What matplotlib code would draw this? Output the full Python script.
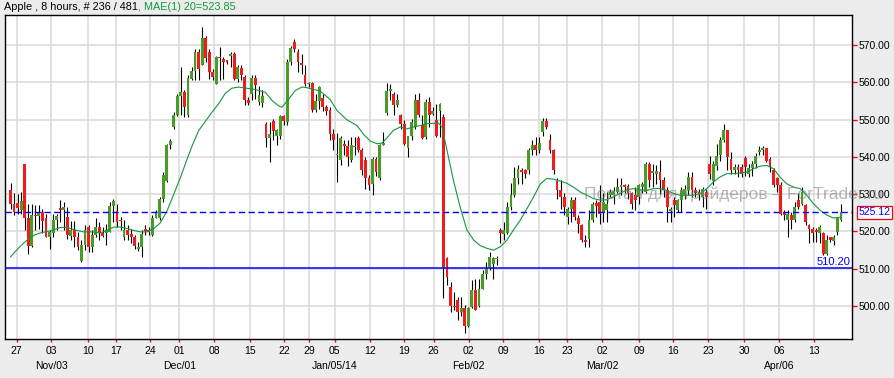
import matplotlib
matplotlib.use('Agg')
import matplotlib.pyplot as plt
import numpy as np

plt.rcParams['font.family'] = ['Liberation Sans', 'DejaVu Sans']

# 8 hour candles, Apple, Oct 25 2013 - Apr 17 2014
opens = [531.0, 527.5, 527.7, 525.7, 538.0, 523.6, 516.2, 524.4, 524.1, 525.1,
         523.5, 518.4, 519.6, 523.0, 526.4, 525.7, 523.9, 518.7, 520.4, 518.4,
         512.2, 516.3, 521.1, 515.9, 519.0, 521.1, 519.6, 519.5, 519.9, 526.8,
         525.4, 522.8, 518.4, 520.4, 519.3, 518.4, 515.2, 515.9, 520.6, 520.4,
         519.0, 523.5, 523.5, 528.6, 533.4, 543.1, 548.0, 551.3, 556.4, 557.5,
         551.1, 560.9, 563.1, 568.2, 564.5, 571.8, 568.0, 562.7, 559.6, 566.7,
         566.2, 565.6, 567.1, 567.6, 560.9, 563.7, 561.3, 555.1, 556.9, 561.1,
         554.8, 554.5, 548.9, 545.0, 549.7, 545.6, 545.6, 550.9, 549.3, 565.5,
         570.9, 568.2, 565.1, 562.0, 559.4, 559.7, 552.6, 554.9, 555.8, 553.3,
         552.6, 546.0, 540.4, 539.2, 543.5, 542.8, 539.1, 542.6, 545.1, 541.9,
         539.2, 534.4, 532.6, 539.5, 534.2, 543.3, 551.7, 557.6, 556.9, 553.8,
         551.1, 548.9, 542.5, 545.5, 548.0, 555.3, 548.4, 545.3, 554.7, 551.5,
         549.8, 552.4, 550.8, 512.8, 505.2, 500.0, 501.6, 498.5, 499.4, 494.8,
         499.8, 504.3, 500.0, 504.5, 508.6, 510.5, 511.3, 512.6, 520.3, 519.4,
         519.5, 526.6, 529.7, 534.2, 536.2, 536.4, 536.4, 541.7, 543.3, 541.7,
         546.6, 549.5, 544.4, 541.7, 533.5, 531.2, 529.3, 523.9, 526.1, 528.4,
         523.5, 521.7, 517.7, 518.1, 523.0, 527.7, 527.9, 525.3, 525.7, 529.7,
         529.7, 530.6, 532.0, 532.4, 532.1, 530.2, 529.7, 529.3, 531.9, 530.6,
         538.0, 535.6, 535.5, 536.0, 533.7, 531.0, 525.6, 528.4, 525.7, 528.4,
         529.7, 531.0, 534.6, 531.0, 530.6, 529.3, 530.6, 538.0, 533.5, 537.5,
         540.4, 544.6, 547.1, 539.3, 536.4, 537.4, 537.4, 539.8, 535.5, 537.0,
         538.0, 541.4, 541.7, 542.4, 539.5, 536.4, 534.2, 532.4, 525.3, 523.0,
         524.4, 523.0, 528.4, 527.5, 527.0, 521.7, 520.8, 520.5, 519.5, 519.5,
         514.1, 518.4, 517.5, 519.9, 523.2]
highs = [533.0, 530.2, 530.0, 530.6, 538.0, 527.5, 527.5, 527.0, 527.0, 526.1,
         524.8, 520.4, 524.8, 524.8, 528.4, 527.9, 526.6, 522.8, 522.8, 519.9,
         517.7, 521.7, 521.7, 520.4, 523.5, 522.6, 521.1, 522.1, 527.9, 528.8,
         527.5, 523.9, 523.0, 521.7, 520.8, 519.0, 517.2, 520.4, 521.7, 521.2,
         524.4, 525.7, 529.3, 535.9, 543.5, 544.9, 552.0, 556.9, 564.0, 557.8,
         561.8, 564.0, 568.9, 568.9, 574.7, 572.5, 568.9, 563.6, 567.1, 569.4,
         566.7, 566.0, 568.0, 568.0, 564.5, 564.5, 561.8, 556.0, 562.0, 562.0,
         559.1, 557.8, 549.3, 549.3, 550.2, 547.5, 551.3, 551.3, 566.2, 569.8,
         571.6, 568.9, 567.6, 564.5, 560.0, 560.0, 556.9, 559.1, 556.9, 553.8,
         553.3, 547.5, 546.4, 545.7, 544.4, 544.4, 545.3, 545.3, 545.7, 542.5,
         539.9, 535.1, 540.0, 540.0, 543.5, 546.6, 559.7, 559.6, 557.3, 556.9,
         551.5, 549.8, 545.7, 550.2, 556.9, 557.0, 551.1, 555.6, 556.0, 553.3,
         554.2, 554.4, 551.5, 513.2, 506.5, 503.9, 502.5, 502.5, 500.3, 499.8,
         507.0, 507.4, 507.4, 509.8, 511.9, 514.6, 513.2, 513.4, 521.0, 522.6,
         527.9, 533.0, 537.3, 537.7, 537.1, 536.8, 542.5, 544.6, 545.2, 545.2,
         550.5, 550.4, 546.0, 542.0, 534.2, 533.7, 530.2, 526.6, 529.3, 529.3,
         524.4, 522.1, 519.0, 525.7, 527.9, 528.4, 532.4, 530.2, 530.6, 531.5,
         532.0, 534.2, 534.2, 532.8, 532.8, 530.6, 532.0, 532.8, 533.3, 538.6,
         538.6, 538.2, 537.7, 539.2, 534.6, 531.9, 526.6, 529.3, 528.8, 531.9,
         532.4, 535.9, 535.9, 531.9, 531.5, 531.9, 531.5, 540.1, 539.0, 543.5,
         545.3, 548.7, 547.3, 541.3, 538.0, 538.0, 538.0, 540.1, 538.0, 539.0,
         541.0, 543.0, 543.0, 542.5, 540.0, 537.0, 534.6, 533.3, 525.7, 525.7,
         525.3, 527.9, 530.2, 531.9, 527.5, 522.1, 521.2, 521.0, 521.7, 519.9,
         519.0, 518.6, 519.0, 523.9, 527.5]
lows = [526.1, 524.4, 524.6, 524.8, 520.4, 514.1, 515.9, 520.4, 520.8, 519.5,
        518.4, 515.4, 518.4, 520.4, 522.6, 520.4, 518.1, 517.8, 515.9, 515.0,
        511.9, 515.0, 514.6, 514.6, 518.6, 517.7, 518.4, 516.3, 519.9, 522.6,
        521.2, 520.4, 517.7, 517.7, 516.8, 515.4, 514.8, 513.2, 519.0, 519.0,
        518.7, 523.5, 523.0, 527.9, 533.3, 542.2, 547.5, 551.0, 551.1, 550.6,
        550.6, 560.5, 560.5, 560.5, 564.5, 565.4, 560.9, 560.5, 559.6, 560.5,
        560.9, 564.8, 564.0, 560.5, 560.0, 560.5, 553.8, 553.8, 555.1, 555.5,
        553.8, 553.3, 542.6, 538.6, 544.4, 543.1, 544.7, 548.4, 548.4, 564.5,
        568.0, 562.7, 562.2, 559.1, 558.7, 552.0, 552.0, 552.9, 552.4, 551.1,
        544.4, 541.9, 533.3, 537.7, 540.4, 537.5, 538.6, 540.4, 541.3, 535.1,
        531.5, 531.0, 529.7, 535.0, 533.7, 543.1, 551.1, 555.1, 551.1, 553.3,
        547.5, 543.1, 540.0, 544.4, 547.5, 550.6, 544.9, 544.9, 548.0, 551.1,
        545.3, 545.3, 502.1, 505.6, 498.5, 499.0, 496.3, 497.4, 492.9, 494.5,
        499.4, 498.9, 499.7, 504.5, 507.2, 509.7, 507.2, 511.0, 517.0, 517.7,
        519.4, 525.7, 529.3, 532.8, 532.8, 534.2, 535.5, 540.6, 540.5, 540.9,
        545.5, 547.5, 541.0, 535.5, 528.8, 526.1, 524.4, 522.0, 522.6, 523.0,
        519.5, 517.2, 515.9, 515.9, 522.6, 523.9, 522.1, 522.6, 522.6, 529.3,
        527.5, 530.2, 529.7, 530.2, 528.8, 526.1, 525.7, 527.5, 530.2, 530.2,
        532.0, 532.0, 532.8, 530.0, 529.3, 522.6, 522.6, 523.9, 525.3, 525.3,
        528.8, 529.7, 529.3, 529.3, 528.4, 526.6, 526.1, 534.0, 532.5, 536.5,
        539.0, 544.0, 536.4, 535.5, 535.5, 534.5, 534.5, 535.0, 534.5, 535.0,
        537.0, 540.5, 540.5, 538.6, 536.0, 531.9, 530.6, 524.4, 523.0, 518.6,
        520.8, 522.6, 526.1, 527.0, 521.7, 516.8, 517.2, 517.2, 516.8, 513.7,
        513.7, 517.2, 516.3, 519.0, 522.8]
closes = [527.5, 525.3, 526.4, 528.1, 523.6, 516.2, 524.4, 524.2, 525.3, 522.8,
          518.4, 519.9, 523.2, 524.1, 525.7, 526.6, 519.0, 520.3, 518.6, 515.9,
          516.3, 520.4, 515.9, 519.0, 521.1, 519.5, 518.8, 520.4, 526.8, 528.2,
          522.6, 522.7, 520.4, 519.0, 518.4, 516.2, 515.9, 519.3, 520.2, 519.9,
          523.5, 525.3, 528.8, 535.2, 543.1, 544.2, 551.3, 556.4, 557.5, 553.3,
          561.1, 563.1, 568.2, 563.6, 571.8, 566.4, 562.7, 561.3, 566.7, 566.5,
          565.5, 565.5, 567.6, 560.9, 564.0, 561.8, 555.1, 554.5, 561.1, 559.3,
          556.6, 556.4, 545.0, 546.2, 546.8, 547.1, 550.9, 549.5, 565.5, 569.1,
          568.9, 565.4, 564.5, 559.6, 559.4, 552.6, 554.9, 558.7, 553.3, 552.4,
          546.0, 544.4, 540.4, 545.1, 542.8, 540.0, 543.1, 542.6, 541.9, 536.6,
          534.4, 532.4, 539.5, 535.9, 543.3, 543.7, 557.6, 558.2, 553.8, 555.3,
          548.9, 543.5, 545.5, 549.3, 555.3, 551.3, 545.1, 554.7, 551.1, 552.4,
          545.5, 554.2, 510.5, 507.9, 500.0, 499.7, 498.5, 499.4, 494.8, 499.4,
          504.3, 499.1, 504.5, 508.6, 509.9, 513.2, 512.8, 512.8, 519.7, 520.5,
          526.6, 529.7, 534.2, 536.8, 536.0, 535.5, 541.7, 543.3, 541.7, 543.7,
          549.6, 548.0, 541.7, 536.4, 531.2, 529.3, 526.6, 526.1, 528.5, 523.9,
          522.1, 517.7, 517.2, 523.0, 527.5, 526.8, 524.8, 527.9, 527.5, 530.6,
          530.9, 531.9, 532.2, 531.9, 530.2, 527.5, 528.4, 532.4, 532.8, 538.2,
          533.7, 536.2, 536.1, 533.7, 531.0, 526.6, 526.1, 527.0, 528.4, 531.0,
          531.5, 534.6, 531.0, 530.2, 529.7, 531.5, 529.3, 535.5, 538.0, 540.2,
          544.6, 547.1, 540.0, 536.5, 537.4, 536.5, 535.5, 537.3, 537.0, 538.0,
          540.3, 541.8, 542.3, 539.0, 537.5, 532.4, 532.4, 524.8, 524.4, 524.8,
          523.0, 526.6, 526.6, 530.6, 522.6, 520.8, 519.5, 519.9, 521.2, 514.1,
          517.7, 517.7, 518.4, 523.5, 525.12]

# 20 bar moving average as traced on the chart (bar position, value)
ma_pos = [0, 2.8, 4.7, 6.6, 8.4, 11.3, 14.1, 16.0, 17.8, 20.6, 23.5, 25.3, 27.2,
          29.1, 31.0, 32.9, 34.7, 36.6, 38.5, 40.4, 42.2, 44.1, 46.0, 47.9, 49.8,
          51.2, 53.0, 54.9, 56.8, 58.7, 60.5, 62.4, 64.3, 66.2, 68.1, 69.9, 71.8,
          73.7, 75.6, 76.5, 78.4, 80.3, 82.1, 83.6, 87.3, 90.1, 92.0, 94.8, 97.6,
          99.5, 101.4, 103.3, 104.7, 106.1, 107.9, 109.8, 111.7, 113.6, 115.5,
          117.3, 119.2, 120.6, 121.6, 123.0, 124.8, 126.7, 128.6, 130.5, 132.4,
          134.2, 136.1, 138.0, 139.9, 141.7, 143.6, 145.5, 147.4, 149.3, 151.1,
          153.0, 154.9, 156.8, 158.6, 160.5, 162.4, 164.3, 166.2, 168.0, 169.9,
          171.8, 173.7, 175.5, 177.4, 179.3, 181.2, 183.0, 184.9, 186.8, 188.7,
          190.6, 192.4, 194.3, 196.2, 198.1, 199.9, 201.8, 203.7, 205.6, 207.5,
          209.3, 211.2, 213.1, 215.0, 216.8, 218.7, 220.6, 222.5, 224.4, 226.2,
          228.1, 230.0, 231.9, 234]
ma_vals = [513.2, 516.1, 517.7, 519.0, 519.6, 520.2, 521.1, 521.1, 520.5, 519.9,
           519.9, 519.6, 520.3, 521.2, 521.2, 520.8, 520.3, 519.9, 519.9, 520.8,
           522.3, 525.5, 530.0, 534.5, 539.5, 543.0, 547.0, 549.5, 552.0, 554.3,
           557.0, 558.4, 558.7, 558.4, 558.2, 557.8, 557.3, 555.1, 553.6, 553.3,
           555.5, 557.8, 558.7, 558.5, 557.6, 555.3, 552.4, 549.9, 548.4, 546.0,
           544.2, 543.5, 543.7, 545.1, 547.1, 548.0, 547.5, 548.0, 548.4, 548.9,
           549.0, 549.0, 548.0, 541.7, 533.7, 526.5, 520.4, 517.7, 516.2, 515.5,
           515.0, 515.9, 517.7, 520.4, 523.0, 526.1, 529.3, 532.8, 534.2, 534.0,
           533.5, 532.9, 531.9, 530.6, 529.7, 528.8, 528.4, 528.5, 529.3, 530.2,
           531.2, 531.5, 531.2, 531.0, 531.5, 531.5, 531.0, 530.2, 529.7, 529.7,
           529.7, 530.2, 531.5, 533.3, 534.6, 535.5, 535.5, 535.7, 535.9, 536.8,
           537.5, 537.7, 536.8, 534.6, 532.8, 531.9, 531.5, 529.7, 527.5, 525.7,
           524.4, 523.6, 523.85]

# weekly date axis
week_pos = [1.7, 11.5, 21.7, 29.6, 39.4, 47.6, 57.4, 67.4, 77.2, 84.2, 91.3,
            101.2, 111.0, 119.2, 129.1, 138.9, 148.8, 156.8, 166.8, 177.1, 186.8,
            196.6, 206.7, 216.6, 226.5]
week_labels = ['27', '03', '10', '17', '24', '01', '08', '15', '22', '29', '05',
               '12', '19', '26', '02', '09', '16', '23', '02', '09', '16', '23',
               '30', '06', '13']
month_pos = [11.5, 47.6, 91.3, 129.1, 166.8, 216.6]
month_labels = ['Nov/03', 'Dec/01', 'Jan/05/14', 'Feb/02', 'Mar/02', 'Apr/06']

last_price = 525.12
support_level = 510.20
ma_last = 523.85

GREEN = '#4a9a28'
RED = '#f01c1c'
MA_GREEN = '#12983a'
BG = '#ececec'


def draw_candles(ax):
    o = np.array(opens)
    h = np.array(highs)
    l = np.array(lows)
    c = np.array(closes)
    x = np.arange(len(c))

    # wicks first, bodies on top
    ax.vlines(x, l, h, color='black', linewidth=0.8, zorder=2)

    up = c >= o
    bottom = np.minimum(o, c)
    height = np.maximum(np.abs(c - o), 0.35)
    colors = np.where(up, GREEN, RED)
    ax.bar(x, height, bottom=bottom, width=0.8, color=colors,
           linewidth=0, zorder=3)


def main():
    fig = plt.figure(figsize=(8.94, 3.78), dpi=100, facecolor=BG)
    ax = fig.add_axes([5 / 894, 39 / 378, 847 / 894, 324 / 378])
    ax.set_facecolor('white')

    draw_candles(ax)

    # moving average
    ax.plot(ma_pos, ma_vals, color=MA_GREEN, linewidth=0.8, zorder=4)

    # price levels
    ax.axhline(last_price, color='#0000ff', linewidth=1.0,
               linestyle=(0, (4.5, 2.5)), zorder=5)
    ax.axhline(support_level, color='#0000ff', linewidth=1.1, zorder=5)

    ax.set_xlim(-1.55, 237.1)
    ax.set_ylim(491.2, 578.0)

    # axes and grid
    ax.set_yticks(np.arange(500, 571, 10))
    ax.yaxis.set_major_formatter(matplotlib.ticker.FormatStrFormatter('%.2f'))
    ax.yaxis.tick_right()
    ax.tick_params(axis='y', direction='out', length=3.8, width=1.0,
                   color='red', labelcolor='black', labelsize=7.5, pad=1)
    ax.set_xticks(week_pos)
    ax.set_xticklabels(week_labels)
    ax.tick_params(axis='x', direction='out', length=2.5, width=1.0,
                   color='red', labelcolor='black', labelsize=7.5, pad=2.5)
    ax.grid(True, color='#d9d9d9', linewidth=1.1, zorder=0)
    ax.set_axisbelow(True)
    for s in ax.spines.values():
        s.set_color('black')
        s.set_linewidth(1.0)

    for pos, label in zip(month_pos, month_labels):
        ax.annotate(label, xy=(pos, 0), xycoords=('data', 'axes fraction'),
                    xytext=(0, -19.5), textcoords='offset points',
                    ha='center', va='center', fontsize=7.5)

    # level labels
    ax.annotate(f'{last_price:.2f}', xy=(1, last_price),
                xycoords=('axes fraction', 'data'), xytext=(4.5, 0),
                textcoords='offset points', ha='left', va='center',
                fontsize=7.5, color='#0000ff',
                bbox=dict(boxstyle='square,pad=0.15', facecolor='white',
                          edgecolor='red', linewidth=0.9))
    ax.annotate(f'{support_level:.2f}', xy=(1, support_level),
                xycoords=('axes fraction', 'data'), xytext=(-1, 0.8),
                textcoords='offset points', ha='right', va='bottom',
                fontsize=8, color='#0000ff')

    # header
    t1 = fig.text(4 / 894, 1 - 7 / 378, 'Apple , 8 hours, # 236 / 481',
                  ha='left', va='center', fontsize=7.8, color='black')
    ax.annotate(f', MAE(1) 20={ma_last:.2f}', xy=(1, 0.5), xycoords=t1,
                ha='left', va='center', fontsize=7.8, color=MA_GREEN,
                annotation_clip=False)

    # watermark, drawn over everything
    fig.text(733 / 894, 1 - 194 / 378, 'Портал для трейдеров – ForTrader.ru',
             ha='center', va='center', fontsize=12.5, color='#7a7a7a',
             alpha=0.55, zorder=10)

    fig.savefig('out.png', dpi=100, facecolor=BG)
    plt.close('all')


if __name__ == '__main__':
    main()
